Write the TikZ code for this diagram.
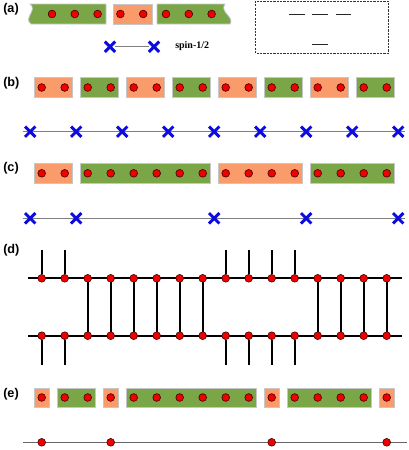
\documentclass[tikz,border=0pt]{standalone}
\usepackage{fontspec}
\setmainfont{Liberation Sans}
\newfontfamily\serifbold{Liberation Serif}
\usetikzlibrary{shapes.misc}
\definecolor{orn}{RGB}{250,155,108}
\definecolor{grn}{RGB}{122,166,72}
\definecolor{xblue}{RGB}{12,12,225}
\definecolor{dred}{RGB}{240,0,0}
\begin{document}
\begin{tikzpicture}[x=0.75pt,y=-0.75pt,
  dot/.style={circle,fill=dred,draw=black!75!red,line width=0.45pt,inner sep=0pt,minimum size=5.8pt},
  spinx/.style={cross out,draw=xblue,line width=2.2pt,inner sep=0pt,minimum size=5.6pt},
  obox/.style={fill=orn,draw=black!22,line width=0.6pt},
  gbox/.style={fill=grn,draw=black!22,line width=0.6pt},
  lbl/.style={font=\bfseries\fontsize{9.5}{10}\selectfont,anchor=west,inner sep=0pt},
  chain/.style={draw=black!50,line width=0.8pt},
  legline/.style={draw=black,line width=1.5pt},
  level/.style={draw=black!85,line width=1.1pt}]
\useasboundingbox (0,0) rectangle (409,450);

% ---------- (a) ----------
\node[lbl] (la) at (3,9.5) {(a)};
\path[gbox] (30,4) .. controls (38,10) and (23,18) .. (31,24) -- (106,24) -- (106,4) -- cycle;
\path[obox] (113,4) rectangle (152,24);
\path[gbox] (157,4) -- (225,4) .. controls (219,12) and (235,17) .. (230,24) -- (157,24) -- cycle;
\foreach \i/\x in {1/52,2/74.8,3/97.6,4/120.4,5/143.2,6/166,7/188.8,8/211.6}
  \node[dot] (a\i) at (\x,14) {};
\node[spinx] (ax1) at (110,46.7) {};
\node[spinx] (ax2) at (154,46.7) {};
\draw[chain,line width=0.6pt] (ax1) -- (ax2);
\node[font=\serifbold\bfseries\fontsize{7.5}{8}\selectfont,anchor=west,inner sep=0pt] (spin) at (175,46) {spin-1/2};
\draw[dash pattern=on 1.6pt off 0.9pt,black!80,line width=0.6pt] (255.7,1) rectangle (388.3,53.3);
\coordinate (l1a) at (289.3,14.7); \coordinate (l1b) at (305,14.7);
\coordinate (l2a) at (312.3,14.7); \coordinate (l2b) at (328.3,14.7);
\coordinate (l3a) at (336,14.7); \coordinate (l3b) at (351,14.7);
\coordinate (l4a) at (312.3,44.3); \coordinate (l4b) at (328.3,44.3);
\draw[level] (l1a) -- (l1b);
\draw[level] (l2a) -- (l2b);
\draw[level] (l3a) -- (l3b);
\draw[level] (l4a) -- (l4b);

% (b)
\node[lbl] (lb) at (3,83.3) {(b)};
\foreach \s/\e/\st in {1/2/obox,3/4/gbox,5/6/obox,7/8/gbox,9/10/obox,11/12/gbox,13/14/obox,15/16/gbox}
  \path[\st] ({41.7+23*(\s-1)-7.6},77.7) rectangle ({41.7+23*(\e-1)+7.6},97.7);
\foreach \k in {1,...,16} \node[dot] (b\k) at ({41.7+23*(\k-1)},87.5) {};
\coordinate (bl) at (23,131.7); \coordinate (br) at (405,131.7);
\draw[chain] (bl) -- (br);
\foreach \j in {0,2,...,16} \node[spinx] (bx\j) at ({30.2+23*\j},131.7) {};

% (c)
\node[lbl] (lc) at (3,168.5) {(c)};
\foreach \s/\e/\st in {1/2/obox,3/8/gbox,9/12/obox,13/16/gbox}
  \path[\st] ({41.7+23*(\s-1)-7.6},163.3) rectangle ({41.7+23*(\e-1)+7.6},183.3);
\foreach \k in {1,...,16} \node[dot] (c\k) at ({41.7+23*(\k-1)},173.3) {};
\coordinate (cl) at (23,218.3); \coordinate (cr) at (405,218.3);
\draw[chain] (cl) -- (cr);
\foreach \j in {0,2,8,12,16} \node[spinx] (cx\j) at ({30.2+23*\j},218.3) {};

% (d)
\node[lbl] (ld) at (3,250) {(d)};
\coordinate (tl) at (28.3,278.3); \coordinate (tr) at (401.7,278.3);
\coordinate (ul) at (28.3,335.7); \coordinate (ur) at (401.7,335.7);
\draw[legline] (tl) -- (tr);
\draw[legline] (ul) -- (ur);
\foreach \k in {1,...,16} {
  \node[dot] (t\k) at ({41.7+23*(\k-1)},278.3) {};
  \node[dot] (u\k) at ({41.7+23*(\k-1)},335.7) {};
}
\foreach \k in {1,2,9,10,11,12} {
  \coordinate (tt\k) at ({41.7+23*(\k-1)},250);
  \coordinate (uu\k) at ({41.7+23*(\k-1)},365);
  \draw[legline] (tt\k) -- (t\k);
  \draw[legline] (u\k) -- (uu\k);
}
\foreach \k in {3,...,8,13,14,15,16}
  \draw[legline] (t\k) -- (u\k);

% (e)
\node[lbl] (le) at (3,394) {(e)};
\foreach \s/\e/\st in {1/1/obox,2/3/gbox,4/4/obox,5/10/gbox,11/11/obox,12/15/gbox,16/16/obox}
  \path[\st] ({41.7+23*(\s-1)-7.6},388.3) rectangle ({41.7+23*(\e-1)+7.6},407.3);
\foreach \k in {1,...,16} \node[dot] (e\k) at ({41.7+23*(\k-1)},397.5) {};
\coordinate (el) at (23.3,442.3); \coordinate (er) at (406.7,442.3);
\draw[chain,draw=black!60] (el) -- (er);
\foreach \k in {1,4,11,16} \node[dot] (ee\k) at ({41.7+23*(\k-1)},442.3) {};
\end{tikzpicture}
\end{document}
